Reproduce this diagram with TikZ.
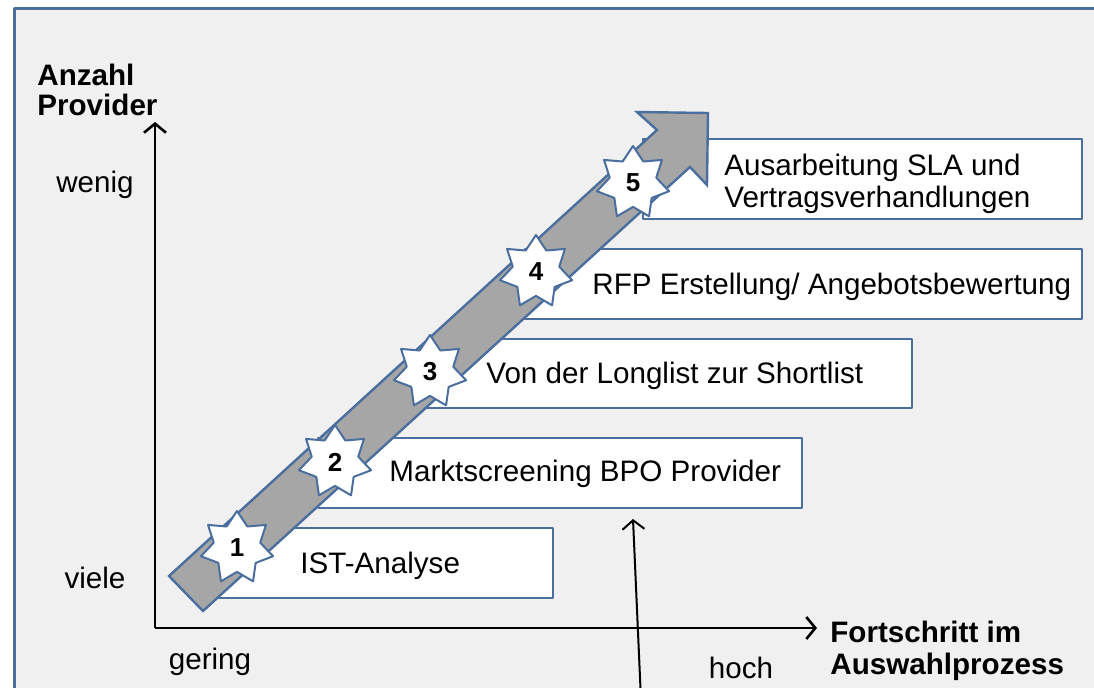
\documentclass[tikz,border=0pt]{standalone}
\usepackage{fontspec}
\setmainfont{Liberation Sans}
\usetikzlibrary{shapes.geometric,arrows.meta}
\definecolor{rahmen}{HTML}{4A6E9E}
\definecolor{grund}{HTML}{F0F0F0}
\definecolor{pfeil}{HTML}{A6A6A6}
\begin{document}
\begin{tikzpicture}[x=.5pt,y=-.5pt,font=\fontsize{14.8}{16}\selectfont,line join=round,
  kasten/.style={draw=rahmen,line width=.9pt,fill=white},
  stern/.style={star,star points=7,star point ratio=1.55,draw=rahmen,line width=1pt,fill=white,
    inner sep=0pt,minimum size=37pt,font=\fontsize{13}{13}\selectfont\bfseries},
  achse/.style={line width=1.3pt,-{Straight Barb[length=4.5pt,width=11pt]}},
  zeiger/.style={line width=1pt,-{Straight Barb[length=4.5pt,width=11pt]}}]
\clip (0,0) rectangle (1094,687);
\fill[white] (0,0) rectangle (1094,687);
\draw[rahmen,fill=grund,line width=1.5pt] (14,8) rectangle (1120,720);
\path
(169,576)coordinate(S1)
(203,611)coordinate(S2)
(657,130)coordinate(K1)
(690,167)coordinate(K2)
(637,112)coordinate(F1)
(707,185)coordinate(F2)
(708,113)coordinate(T)
(155,628)coordinate(O)
(155,122)coordinate(Y)
(817,628)coordinate(X)
(641,700)coordinate(Z0)
(633,519)coordinate(Z1);
% Kaesten
\foreach \l/\t/\r/\b in {214/528/553/598,318/438/802/508,427/339/912/408,525/249/1082/319,643/139/1082/219}
\draw[kasten] (\l,\t) rectangle (\r,\b);
\node[anchor=west,inner sep=0pt] (t1) at (300,566) {IST-Analyse};
\node[anchor=west,inner sep=0pt] (t2) at (389,474) {Marktscreening BPO Provider};
\node[anchor=west,inner sep=0pt] (t3) at (486,376) {Von der Longlist zur Shortlist};
\node[anchor=west,inner sep=0pt] (t4) at (592,287) {RFP Erstellung/ Angebotsbewertung};
\node[anchor=north west,inner sep=0pt,align=left] (t5) at (724,154) {Ausarbeitung SLA und\\Vertragsverhandlungen};
% Pfeil
\draw[rahmen,fill=pfeil,line width=1.2pt,line join=miter] (S1)--(K1)--(F1)--(T)--(F2)--(K2)--(S2)--cycle;
\foreach \n/\x/\y in {1/237/548,2/335/462,3/430/372,4/536/272,5/633/183}
\node[stern] (s\n) at (\x,\y) {\n};
% Achsen
\draw[achse] (O)--(Y);
\draw[achse] (O)--(X);
\draw[zeiger] (Z0)--(Z1);
\node[anchor=south west,inner sep=0pt,align=left,font=\fontsize{14.8}{15}\selectfont\bfseries] (ya) at (37,116) {Anzahl\\Provider};
\node[anchor=north west,inner sep=0pt,align=left,font=\fontsize{14.8}{16}\selectfont\bfseries] (xa) at (830,621) {Fortschritt im\\Auswahlprozess};
\node (wenig) at (95,185) {wenig};
\node (viele) at (95,578) {viele};
\node (gering) at (210,662) {gering};
\node (hoch) at (741,668) {hoch};
\end{tikzpicture}
\end{document}
